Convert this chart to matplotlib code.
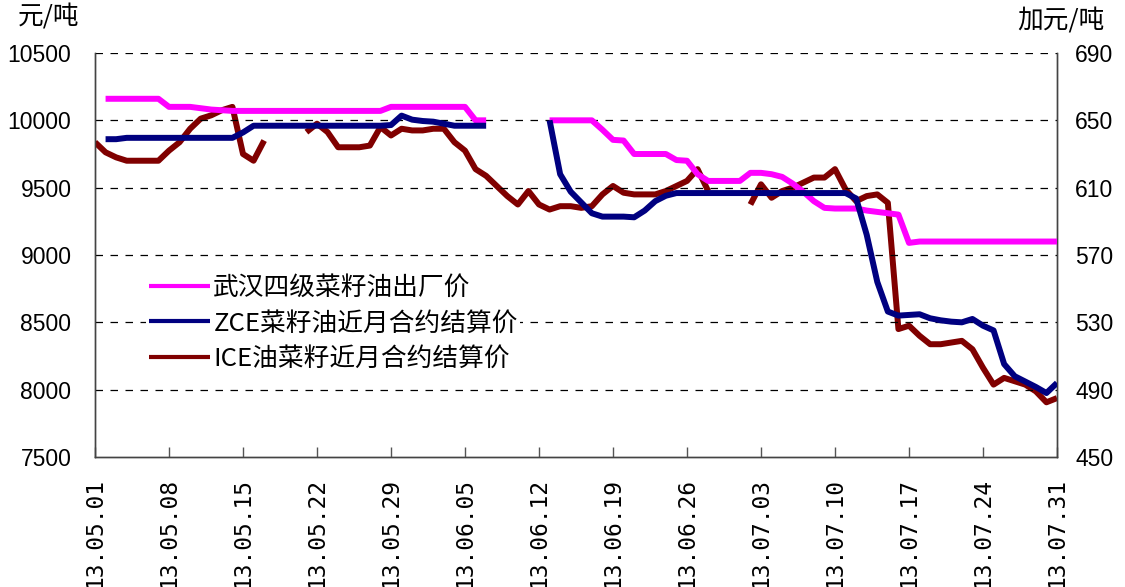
import matplotlib
matplotlib.use("Agg")
import matplotlib.pyplot as plt
import numpy as np
import pandas as pd

plt.rcParams['font.family'] = ['Liberation Sans', 'Noto Sans CJK SC']

# ---- data -------------------------------------------------------------
# 武汉四级菜籽油出厂价 (元/吨)
wuhan_dates = ["05-02", "05-03", "05-04", "05-05", "05-06", "05-07", "05-08", "05-09", "05-10",
               "05-11", "05-12", "05-13", "05-14", "05-16", "05-18", "05-20", "05-22", "05-24",
               "05-26", "05-28", "05-29", "05-31", "06-02", "06-04", "06-05", "06-06", "06-07",
               "06-08",
               "06-13", "06-14", "06-15", "06-16", "06-17", "06-18", "06-19", "06-20", "06-21",
               "06-22", "06-23", "06-24", "06-25", "06-26", "06-27", "06-28", "06-29", "06-30",
               "07-01", "07-02", "07-03", "07-04", "07-05", "07-06", "07-07", "07-08", "07-09",
               "07-10", "07-11", "07-12", "07-13", "07-14", "07-15", "07-16", "07-17", "07-18",
               "07-20", "07-22", "07-24", "07-26", "07-28", "07-30", "07-31"]
wuhan_price = [10160, 10160, 10160, 10160, 10160, 10160, 10100, 10100, 10100,
               10090, 10080, 10075, 10070, 10070, 10070, 10070, 10070, 10070,
               10070, 10070, 10100, 10100, 10100, 10100, 10100, 10000, 10000,
               np.nan,
               10000, 10000, 10000, 10000, 10000, 9930, 9855, 9850, 9750,
               9750, 9750, 9750, 9705, 9700, 9600, 9550, 9550, 9550,
               9550, 9610, 9610, 9600, 9580, 9530, 9470, 9400, 9350,
               9345, 9345, 9345, 9330, 9320, 9310, 9300, 9090, 9100,
               9100, 9100, 9100, 9100, 9100, 9100, 9100]

# ZCE菜籽油近月合约结算价 (元/吨)
zce_dates = ["05-02", "05-03", "05-04", "05-08", "05-12", "05-14", "05-15", "05-16", "05-20",
             "05-24", "05-28", "05-29", "05-30", "05-31", "06-01", "06-02", "06-03", "06-04",
             "06-07", "06-08",
             "06-13", "06-14", "06-15", "06-16", "06-17", "06-18", "06-19", "06-20", "06-21",
             "06-22", "06-23", "06-24", "06-25", "06-30", "07-05", "07-11", "07-12", "07-13",
             "07-14", "07-15", "07-16", "07-17", "07-18", "07-19", "07-20", "07-21", "07-22",
             "07-23", "07-24", "07-25", "07-26", "07-27", "07-28", "07-29", "07-30", "07-31"]
zce_price = [9860, 9860, 9870, 9870, 9870, 9870, 9910, 9960, 9960,
             9960, 9960, 9965, 10035, 10005, 9995, 9990, 9975, 9960,
             9960, np.nan,
             10000, 9600, 9470, 9390, 9310, 9285, 9285, 9285, 9280,
             9330, 9400, 9440, 9460, 9460, 9460, 9460, 9420, 9150,
             8800, 8580, 8550, 8555, 8560, 8530, 8515, 8505, 8500,
             8525, 8475, 8440, 8190, 8100, 8060, 8020, 7975, 8050]

# ICE油菜籽近月合约结算价 (加元/吨)
ice_dates = ["05-01", "05-02", "05-03", "05-04", "05-05", "05-06", "05-07", "05-08", "05-09",
             "05-10", "05-11", "05-12", "05-13", "05-14", "05-15", "05-16", "05-17", "05-18",
             "05-21", "05-22", "05-23", "05-24", "05-25", "05-26", "05-27", "05-28", "05-29",
             "05-30", "05-31", "06-01", "06-02", "06-03", "06-04", "06-05", "06-06", "06-07",
             "06-08", "06-09", "06-10", "06-11", "06-12", "06-13", "06-14", "06-15", "06-16",
             "06-17", "06-18", "06-19", "06-20", "06-21", "06-22", "06-23", "06-24", "06-25",
             "06-26", "06-27", "06-28", "06-29",
             "07-02", "07-03", "07-04", "07-05", "07-06", "07-07", "07-08", "07-09", "07-10",
             "07-11", "07-12", "07-13", "07-14", "07-15", "07-16", "07-17", "07-18", "07-19",
             "07-20", "07-21", "07-22", "07-23", "07-24", "07-25", "07-26", "07-27", "07-28",
             "07-29", "07-30", "07-31"]
ice_price = [637, 631, 628, 626, 626, 626, 626, 632, 637,
             645, 651, 653, 656, 658, 630, 626, 638, np.nan,
             643, 648, 643, 634, 634, 634, 635, 646, 641,
             645, 644, 644, 645, 645, 637, 632, 621, 617,
             611, 605, 600, 608, 600, 597, 599, 599, 598,
             599, 606, 611, 607, 606, 606, 606, 608, 611,
             614, 621, 608, np.nan,
             600, 612, 604, 608, 610, 613, 616, 616, 621,
             609, 602, 605, 606, 601, 526, 528, 522, 517,
             517, 518, 519, 514, 503, 493, 497, 495, 493,
             489, 482.5, 485]

tick_labels = ["13.05.01", "13.05.08", "13.05.15", "13.05.22", "13.05.29", "13.06.05",
               "13.06.12", "13.06.19", "13.06.26", "13.07.03", "13.07.10", "13.07.17",
               "13.07.24", "13.07.31"]

series_names = ["武汉四级菜籽油出厂价", "ZCE菜籽油近月合约结算价", "ICE油菜籽近月合约结算价"]
left_ticks = [7500, 8000, 8500, 9000, 9500, 10000, 10500]
right_ticks = [450, 490, 530, 570, 610, 650, 690]


def to_dates(md):
    return pd.to_datetime(["2013-" + s for s in md])


# ---- figure -----------------------------------------------------------
fig = plt.figure(figsize=(11.25, 5.87), dpi=100)
ax = fig.add_axes([95 / 1125, 1 - 457 / 587, (1057 - 95) / 1125, (457 - 53) / 587])
ax2 = ax.twinx()

start = pd.Timestamp("2013-05-01")
end = pd.Timestamp("2013-07-31")
ax.set_xlim(start, end)
ax.set_ylim(7500, 10500)
ax2.set_ylim(450, 690)

# dashed horizontal grid
for v in left_ticks[1:]:
    ax.axhline(v, color="black", lw=0.9, ls=(0, (6, 6)), zorder=0.5)

lw = 4.3
l1, = ax.plot(to_dates(wuhan_dates), wuhan_price, color="#FF00FF", lw=lw,
              solid_joinstyle="round", solid_capstyle="butt", zorder=3)
l2, = ax.plot(to_dates(zce_dates), zce_price, color="#000080", lw=lw,
              solid_joinstyle="round", solid_capstyle="butt", zorder=3)
l3, = ax2.plot(to_dates(ice_dates), ice_price, color="#800000", lw=lw,
               solid_joinstyle="round", solid_capstyle="butt", zorder=3)

# axes styling
tick_pos = pd.date_range(start, end, freq="7D")
ax.set_xticks(tick_pos)
ax.set_xticklabels(tick_labels, rotation=90, family="DejaVu Sans Mono", fontsize=16.5,
                   va="top", ha="center")
ax.tick_params(axis="x", direction="in", length=7, width=1, pad=15, color="#555555")
ax.set_yticks(left_ticks)
ax.set_yticklabels([str(v) for v in left_ticks], fontsize=16.5)
ax.tick_params(axis="y", direction="in", length=0, pad=17)
ax2.set_yticks(right_ticks)
ax2.set_yticklabels([str(v) for v in right_ticks], fontsize=16.5)
ax2.tick_params(axis="y", direction="in", length=0, pad=13)

for a in (ax, ax2):
    a.spines["top"].set_visible(False)
    for s in ("left", "right", "bottom"):
        a.spines[s].set_color("#444444")
        a.spines[s].set_linewidth(1.0)

ax.set_zorder(ax2.get_zorder() + 1)
ax.patch.set_visible(False)

# units
fig.text(18 / 1125, 1 - 17 / 587, "元/吨", fontsize=18.5, family="Noto Sans CJK SC",
         ha="left", va="center")
fig.text(1017 / 1125, 1 - 21 / 587, "加元/吨", fontsize=18.5, family="Noto Sans CJK SC",
         ha="left", va="center")

leg = ax.legend([l1, l2, l3], series_names, loc="upper left",
                bbox_to_anchor=(146 / 1125, 1 - 272 / 587), bbox_transform=fig.transFigure,
                frameon=True, fancybox=False, edgecolor="none", facecolor="white", framealpha=1,
                prop={"family": "Noto Sans CJK SC", "size": 18.5},
                handlelength=2.4, handletextpad=0.12, labelspacing=0.38,
                borderpad=0.1, borderaxespad=0)
for h in leg.get_lines():
    h.set_linewidth(3.0)

fig.savefig("out.png", dpi=100)
